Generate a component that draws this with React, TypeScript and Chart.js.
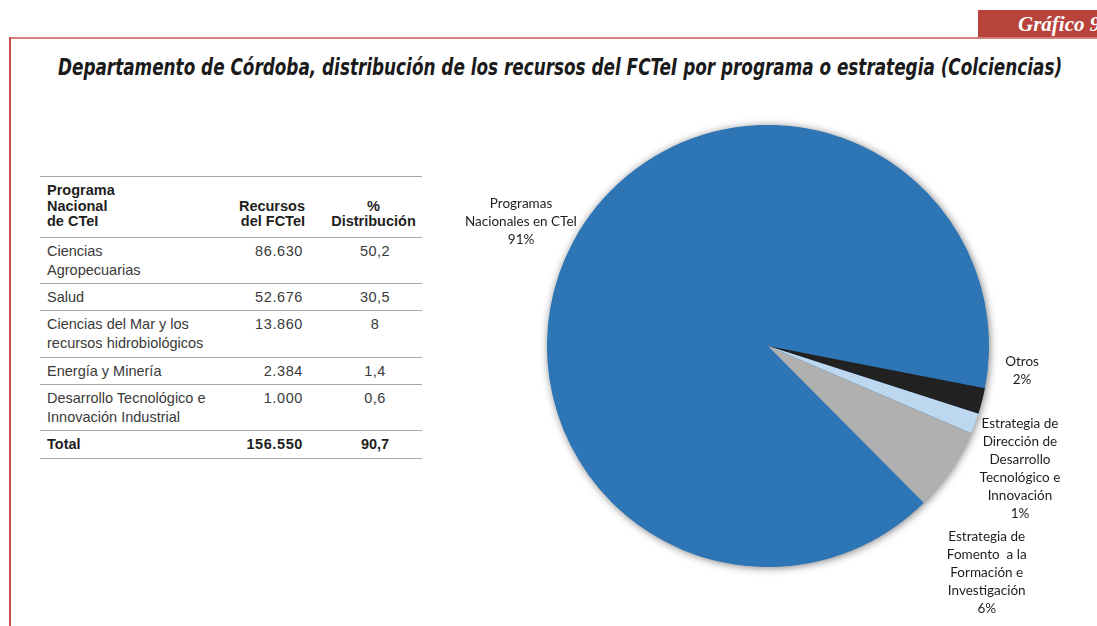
import React, { useEffect, useLayoutEffect, useRef } from "react";
import { Chart, registerables } from "chart.js";

Chart.register(...registerables);

// ---- Pie data ----
const sliceLabels: string[][] = [
  ["Programas", "Nacionales en CTeI", "91%"],
  ["Otros", "2%"],
  ["Estrategia de", "Dirección de", "Desarrollo", "Tecnológico e", "Innovación", "1%"],
  ["Estrategia de", "Fomento  a la", "Formación e", "Investigación", "6%"],
];
const sliceValues: number[] = [90.5, 1.9, 1.5, 6.1];
const sliceColors: string[] = ["#2e75b6", "#212121", "#bdd7ee", "#b0b0b0"];

// ---- Table data ----
const tableHeaders: string[][] = [
  ["Programa", "Nacional", "de CTeI"],
  ["Recursos", "del FCTeI"],
  ["%", "Distribución"],
];
const programNames: string[][] = [
  ["Ciencias", "Agropecuarias"],
  ["Salud"],
  ["Ciencias del Mar y los", "recursos hidrobiológicos"],
  ["Energía y Minería"],
  ["Desarrollo Tecnológico e", "Innovación Industrial"],
];
const programResources: string[] = ["86.630", "52.676", "13.860", "2.384", "1.000"];
const programShares: string[] = ["50,2", "30,5", "8", "1,4", "0,6"];
const totalLabel = "Total";
const totalResources = "156.550";
const totalShare = "90,7";

const titleText =
  "Departamento de Córdoba, distribución de los recursos del FCTeI por programa o estrategia (Colciencias)";
const tabText = "Gráfico 9";

// label placement relative to the outer-edge midpoint of each slice
const labelOffsets: [number, number][] = [
  [-52, -20],
  [40, -30],
  [45, 45],
  [36, 102],
];

const shadowPlugin = {
  id: "pieShadow",
  beforeDatasetsDraw(chart: any) {
    const meta = chart.getDatasetMeta(0);
    const arc = meta.data[0];
    if (!arc) return;
    const { x, y, outerRadius } = arc.getProps(["x", "y", "outerRadius"], true);
    const ctx = chart.ctx;
    ctx.save();
    ctx.shadowColor = "rgba(0,0,0,0.55)";
    ctx.shadowBlur = 9;
    ctx.shadowOffsetX = 1;
    ctx.shadowOffsetY = 1;
    ctx.beginPath();
    ctx.arc(x, y, outerRadius - 0.5, 0, Math.PI * 2);
    ctx.fillStyle = sliceColors[0];
    ctx.fill();
    ctx.restore();
  },
};

const labelPlugin = {
  id: "sliceLabels",
  afterDatasetsDraw(chart: any) {
    const meta = chart.getDatasetMeta(0);
    const ctx = chart.ctx;
    ctx.save();
    ctx.font = '13.5px Lato, "Open Sans", sans-serif';
    ctx.fillStyle = "#1e1e1e";
    ctx.textAlign = "center";
    ctx.textBaseline = "middle";
    const lineH = 18;
    meta.data.forEach((arc: any, i: number) => {
      const { x, y, startAngle, endAngle, outerRadius } = arc.getProps(
        ["x", "y", "startAngle", "endAngle", "outerRadius"],
        true
      );
      const mid = (startAngle + endAngle) / 2;
      const px = x + Math.cos(mid) * outerRadius + labelOffsets[i][0];
      const py = y + Math.sin(mid) * outerRadius + labelOffsets[i][1];
      const lines = sliceLabels[i];
      const top = py - ((lines.length - 1) * lineH) / 2;
      lines.forEach((ln, j) => ctx.fillText(ln, px, top + j * lineH));
    });
    ctx.restore();
  },
};

const cellFont = '"Liberation Sans", Arial, sans-serif';

export default function App() {
  const canvasRef = useRef<HTMLCanvasElement | null>(null);
  const titleRef = useRef<HTMLDivElement | null>(null);

  useLayoutEffect(() => {
    const el = titleRef.current;
    if (!el) return;
    const w = el.scrollWidth;
    if (w > 0) el.style.transform = `scaleX(${1004 / w})`;
  }, []);

  useEffect(() => {
    if (!canvasRef.current) return;
    const chart = new Chart(canvasRef.current, {
      type: "pie",
      data: {
        labels: sliceLabels.map((l) => l.join(" ")),
        datasets: [
          {
            data: sliceValues,
            backgroundColor: sliceColors,
            borderWidth: 0,
          },
        ],
      },
      options: {
        responsive: false,
        animation: false,
        rotation: 135.2,
        layout: { padding: { left: 107, right: 108, top: 35, bottom: 59 } },
        plugins: {
          legend: { display: false },
          tooltip: { enabled: false },
        },
      },
      plugins: [shadowPlugin, labelPlugin],
    });
    return () => chart.destroy();
  }, []);

  const border = "1.5px solid #a8a8a8";
  const bodyCell: React.CSSProperties = {
    fontFamily: cellFont,
    fontSize: "14.5px",
    lineHeight: "19px",
    color: "#3a3a3a",
    padding: "4px 0 3.4px 0",
    verticalAlign: "top",
    borderBottom: border,
  };
  const headCell: React.CSSProperties = {
    fontFamily: cellFont,
    fontSize: "14.5px",
    fontWeight: "bold",
    lineHeight: "15.5px",
    color: "#1e1e1e",
    padding: "6px 0 7px 0",
    verticalAlign: "bottom",
    borderBottom: border,
  };

  return (
    <div
      style={{
        position: "absolute",
        left: 0,
        top: 0,
        width: 1097,
        height: 626,
        overflow: "hidden",
        background: "#ffffff",
      }}
    >
      {/* tab */}
      <div
        style={{
          position: "absolute",
          left: 978,
          top: 10,
          width: 140,
          height: 28,
          background: "#b8433b",
          color: "#ffffff",
          fontFamily: '"Liberation Serif", "DejaVu Serif", serif',
          fontStyle: "italic",
          fontWeight: "bold",
          fontSize: "21px",
          lineHeight: "28px",
          paddingLeft: 40,
          boxSizing: "border-box",
          whiteSpace: "nowrap",
        }}
      >
        {tabText}
      </div>
      {/* frame */}
      <div style={{ position: "absolute", left: 9, top: 37, width: 1100, height: 2, background: "#d3817d" }} />
      <div style={{ position: "absolute", left: 9, top: 37, width: 2, height: 600, background: "#c9524b" }} />
      {/* title */}
      <div
        ref={titleRef}
        style={{
          position: "absolute",
          left: 58,
          top: 52,
          transformOrigin: "0 0",
          fontFamily: '"Liberation Sans Narrow", "DejaVu Sans Condensed", "Liberation Sans", sans-serif',
          fontStyle: "italic",
          fontWeight: "bold",
          fontSize: "22.5px",
          lineHeight: "30px",
          color: "#1a1a1a",
          whiteSpace: "nowrap",
        }}
      >
        {titleText}
      </div>
      {/* table */}
      <table
        style={{
          position: "absolute",
          left: 40,
          top: 176,
          width: 382,
          borderCollapse: "collapse",
          borderTop: border,
          tableLayout: "fixed",
        }}
      >
        <colgroup>
          <col style={{ width: 190 }} />
          <col style={{ width: 95 }} />
          <col style={{ width: 97 }} />
        </colgroup>
        <thead>
          <tr>
            <th style={{ ...headCell, textAlign: "left", paddingLeft: 7 }}>
              {tableHeaders[0].map((t, i) => (
                <div key={i}>{t}</div>
              ))}
            </th>
            <th style={{ ...headCell, textAlign: "right", paddingRight: 20 }}>
              {tableHeaders[1].map((t, i) => (
                <div key={i}>{t}</div>
              ))}
            </th>
            <th style={{ ...headCell, textAlign: "center" }}>
              {tableHeaders[2].map((t, i) => (
                <div key={i}>{t}</div>
              ))}
            </th>
          </tr>
        </thead>
        <tbody>
          {programNames.map((name, r) => (
            <tr key={r}>
              <td style={{ ...bodyCell, paddingLeft: 7 }}>
                {name.map((t, i) => (
                  <div key={i}>{t}</div>
                ))}
              </td>
              <td style={{ ...bodyCell, textAlign: "right", paddingRight: 22, letterSpacing: "0.6px" }}>
                {programResources[r]}
              </td>
              <td style={{ ...bodyCell, textAlign: "center", paddingLeft: 3, letterSpacing: "0.4px" }}>
                {programShares[r]}
              </td>
            </tr>
          ))}
          <tr>
            <td style={{ ...bodyCell, fontWeight: "bold", color: "#1e1e1e", paddingLeft: 7 }}>{totalLabel}</td>
            <td
              style={{
                ...bodyCell,
                fontWeight: "bold",
                color: "#1e1e1e",
                textAlign: "right",
                paddingRight: 22,
                letterSpacing: "0.6px",
              }}
            >
              {totalResources}
            </td>
            <td style={{ ...bodyCell, fontWeight: "bold", color: "#1e1e1e", textAlign: "center", paddingLeft: 3 }}>
              {totalShare}
            </td>
          </tr>
        </tbody>
      </table>
      {/* pie */}
      <canvas
        ref={canvasRef}
        width={657}
        height={536}
        style={{ position: "absolute", left: 440, top: 90, width: 657, height: 536 }}
      />
    </div>
  );
}
